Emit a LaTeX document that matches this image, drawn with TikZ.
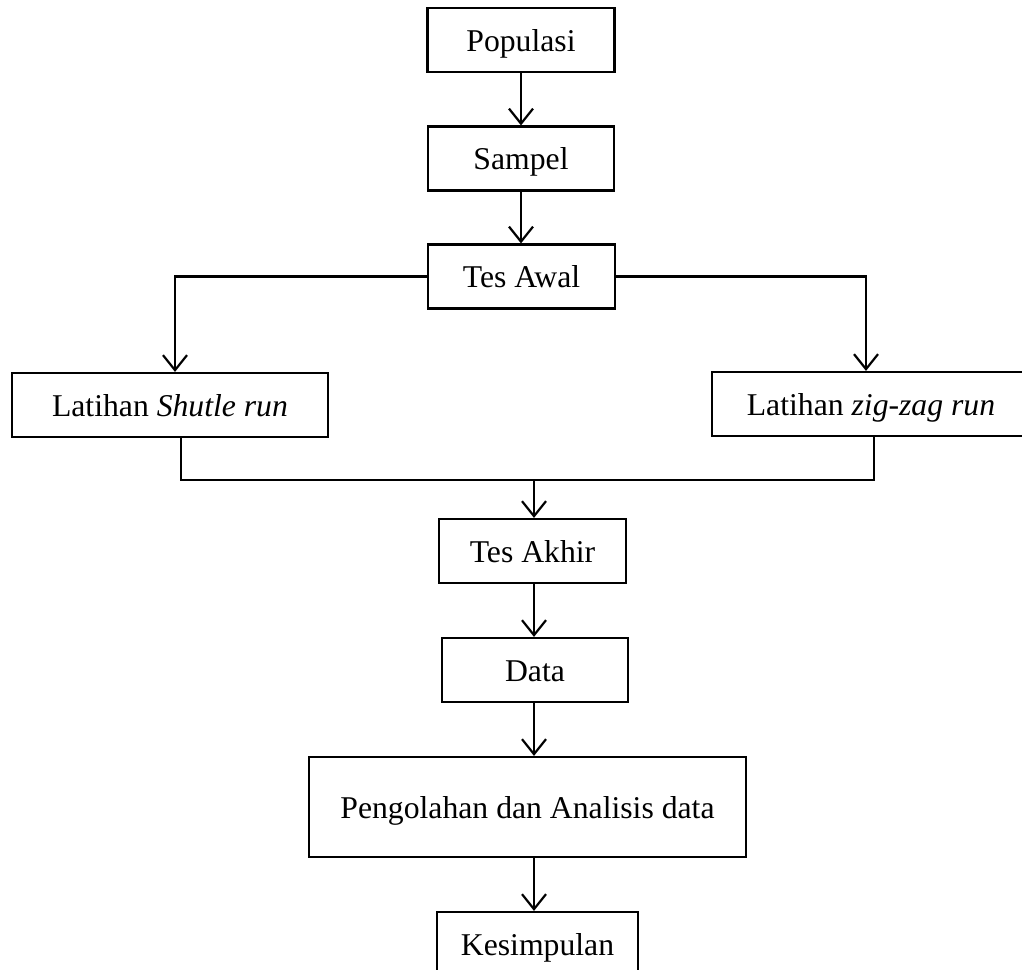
\documentclass[tikz,border=0pt]{standalone}
\usepackage{fontspec}
\setmainfont{Liberation Serif}
\usetikzlibrary{arrows.meta}

\begin{document}
\begin{tikzpicture}[x=1pt,y=-1pt,
    font=\fontsize{31.7}{38}\selectfont,
    kotak/.style={draw,line width=2.2pt,inner sep=0pt,minimum height=64pt,text height=28pt,text depth=6pt},
    panah/.style={line width=2.2pt,-{Straight Barb[length=15pt,width=24pt,line width=2.2pt]}},
    garis/.style={line width=2.2pt}]
    \useasboundingbox (0,0) rectangle (1022,969);
    % alur atas
    \node[kotak,minimum width=187pt] (populasi) at (521,40) {Populasi};
    \node[kotak,minimum width=186pt] (sampel) at (521,158.5) {Sampel};
    \node[kotak,minimum width=187pt] (tesawal) at (521.5,276.5) {Tes Awal};
    \draw[panah] (populasi.south) -- (populasi.south |- sampel.north);
    \draw[panah] (populasi.south |- sampel.south) -- (populasi.south |- tesawal.north);
    % dua kelompok latihan
    \node[kotak,minimum width=316pt] (shutle) at (170,405) {Latihan \textit{Shutle run}};
    \node[kotak,minimum width=318pt] (zigzag) at (871,404) {Latihan \textit{zig-zag run}};
    \draw[panah] (tesawal.west) -| ([xshift=5pt]shutle.north);
    \draw[panah] (tesawal.east) -| ([xshift=-5pt]zigzag.north);
    % gabung ke tes akhir
    \coordinate (gabung) at (534,480);
    \draw[garis] ([xshift=11pt]shutle.south) |- (gabung);
    \draw[garis] ([xshift=3pt]zigzag.south) |- (gabung);
    \node[kotak,minimum width=187pt] (tesakhir) at (532.5,551) {Tes Akhir};
    \draw[panah] (gabung) -- (gabung |- tesakhir.north);
    % alur bawah
    \node[kotak,minimum width=186pt] (data) at (535,670) {Data};
    \node[kotak,minimum width=437pt,minimum height=100pt] (olah) at (527.5,807) {Pengolahan dan Analisis data};
    \node[kotak,minimum width=201pt] (kesimpulan) at (537.5,944) {Kesimpulan};
    \draw[panah] (gabung |- tesakhir.south) -- (gabung |- data.north);
    \draw[panah] (gabung |- data.south) -- (gabung |- olah.north);
    \draw[panah] (gabung |- olah.south) -- (gabung |- kesimpulan.north);
\end{tikzpicture}
\end{document}
